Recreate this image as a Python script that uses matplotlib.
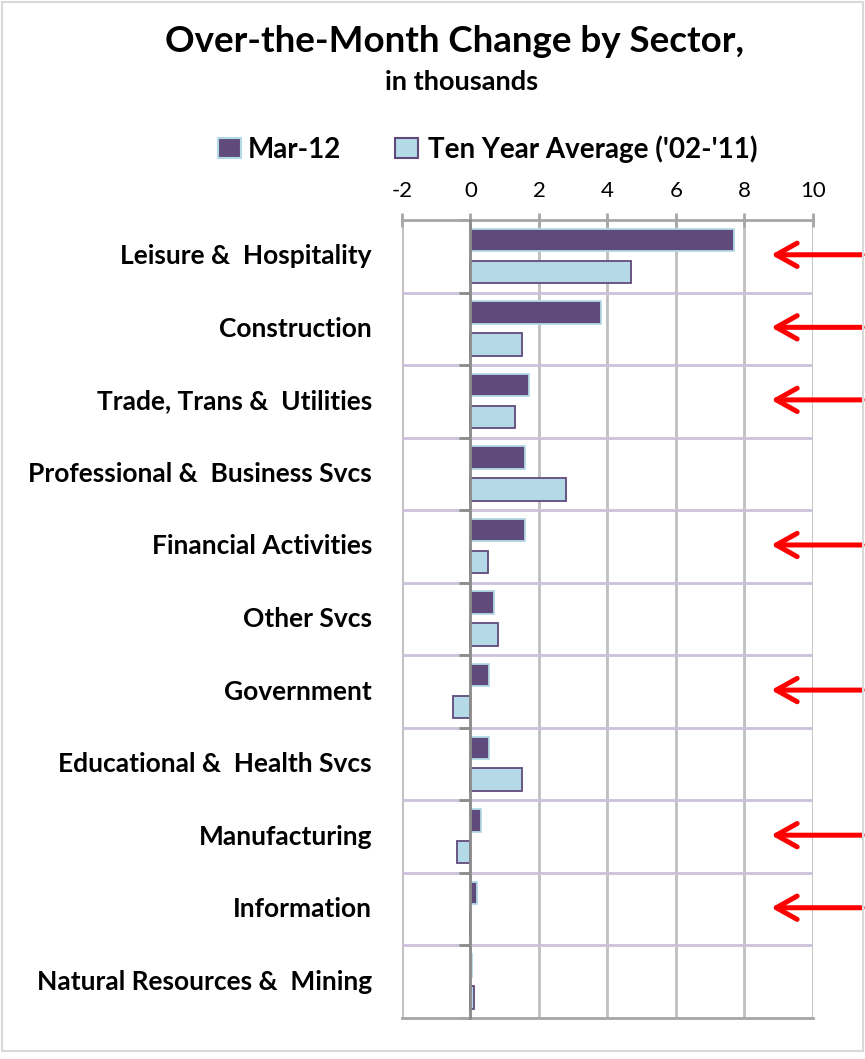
import numpy as np
import matplotlib
matplotlib.use("Agg")
import matplotlib.pyplot as plt
from matplotlib.patches import Rectangle

plt.rcParams['font.family'] = ['Lato', 'DejaVu Sans']

# sectors, top to bottom as in the chart
sectors = ["Leisure &  Hospitality", "Construction", "Trade, Trans &  Utilities",
           "Professional &  Business Svcs", "Financial Activities", "Other Svcs",
           "Government", "Educational &  Health Svcs", "Manufacturing",
           "Information", "Natural Resources &  Mining"]
mar12 = [7.7, 3.8, 1.7, 1.6, 1.6, 0.7, 0.55, 0.55, 0.3, 0.2, 0.05]
ten_year_avg = [4.7, 1.5, 1.3, 2.8, 0.5, 0.8, -0.5, 1.5, -0.4, 0.0, 0.1]
# rows that get a red arrow
flagged = ["Leisure &  Hospitality", "Construction", "Trade, Trans &  Utilities",
           "Financial Activities", "Government", "Manufacturing", "Information"]
x_ticks = [-2, 0, 2, 4, 6, 8, 10]

dark = "#604A7B"
light = "#B3DAE6"

fig = plt.figure(figsize=(8.65, 10.59), dpi=100)
fig.patches.append(Rectangle((0.002, 0.008), 0.996, 0.99, transform=fig.transFigure,
                             fill=False, edgecolor="#D9D9D9", lw=1.5))
ax = fig.add_axes([0.4647, 0.0387, 0.4751, 0.7536])

y = np.arange(len(sectors))
ax.barh(y - 0.225, mar12, height=0.31, color=dark, edgecolor=light, lw=1.3, zorder=3)
ax.barh(y + 0.215, ten_year_avg, height=0.31, color=light, edgecolor=dark, lw=1.3, zorder=3)

ax.set_xlim(-2, 10)
ax.set_ylim(len(sectors) - 0.5, -0.5)

# gridlines
for t in x_ticks:
    ax.axvline(t, color="#BFBFBF", lw=2, zorder=1)
for b in np.arange(len(sectors) - 1) + 0.5:
    ax.axhline(b, color="#CCC1DA", lw=2, zorder=1)

# category axis sits on zero, ticks point left
ax.spines['left'].set_position(('data', 0))
ax.spines['left'].set_color("#8C8C8C")
ax.spines['left'].set_linewidth(2)
ax.spines['left'].set_zorder(4)
ax.set_yticks(np.arange(len(sectors) + 1) - 0.5)
ax.set_yticklabels([])
ax.tick_params(axis='y', direction='out', length=8, width=2, color="#8C8C8C")

ax.spines['right'].set_visible(False)
for s in ['top', 'bottom']:
    ax.spines[s].set_color("#A6A6A6")
    ax.spines[s].set_linewidth(2)

ax.xaxis.tick_top()
ax.set_xticks(x_ticks)
ax.set_xticklabels([str(t) for t in x_ticks], fontsize=16)
ax.tick_params(axis='x', direction='inout', length=10, width=2, color="#A6A6A6", pad=9)

# category labels on the far left
for i, name in enumerate(sectors):
    ax.text(-0.073, i, name, transform=ax.get_yaxis_transform(), ha='right', va='center',
            fontsize=19, fontweight='bold')

# red arrows
for i, name in enumerate(sectors):
    if name in flagged:
        ax.annotate("", xy=(8.7, i - 0.02), xycoords='data',
                    xytext=(1.0, i - 0.02), textcoords=('figure fraction', 'data'),
                    arrowprops=dict(arrowstyle="->,head_length=0.75,head_width=0.42",
                                    mutation_scale=20, color="#FF0000", lw=3.6,
                                    capstyle='round', joinstyle='round'),
                    annotation_clip=False, zorder=5)

fig.text(0.525, 0.951, "Over-the-Month Change by Sector,", ha='center', va='baseline',
         fontsize=26.5, fontweight='bold')
fig.text(0.534, 0.915, "in thousands", ha='center', va='baseline',
         fontsize=19.5, fontweight='bold')

# legend drawn by hand
fig.patches.append(Rectangle((218 / 865, 1 - 158 / 1059), 23 / 865, 20 / 1059,
                             transform=fig.transFigure, facecolor=dark, edgecolor=light, lw=1.5))
fig.text(248 / 865, 1 - 158 / 1059, "Mar-12", ha='left', va='baseline',
         fontsize=20, fontweight='bold')
fig.patches.append(Rectangle((395 / 865, 1 - 158 / 1059), 23 / 865, 20 / 1059,
                             transform=fig.transFigure, facecolor=light, edgecolor=dark, lw=1.5))
fig.text(428 / 865, 1 - 158 / 1059, "Ten Year Average ('02-'11)", ha='left', va='baseline',
         fontsize=20, fontweight='bold')

fig.savefig("out.png", dpi=100)
